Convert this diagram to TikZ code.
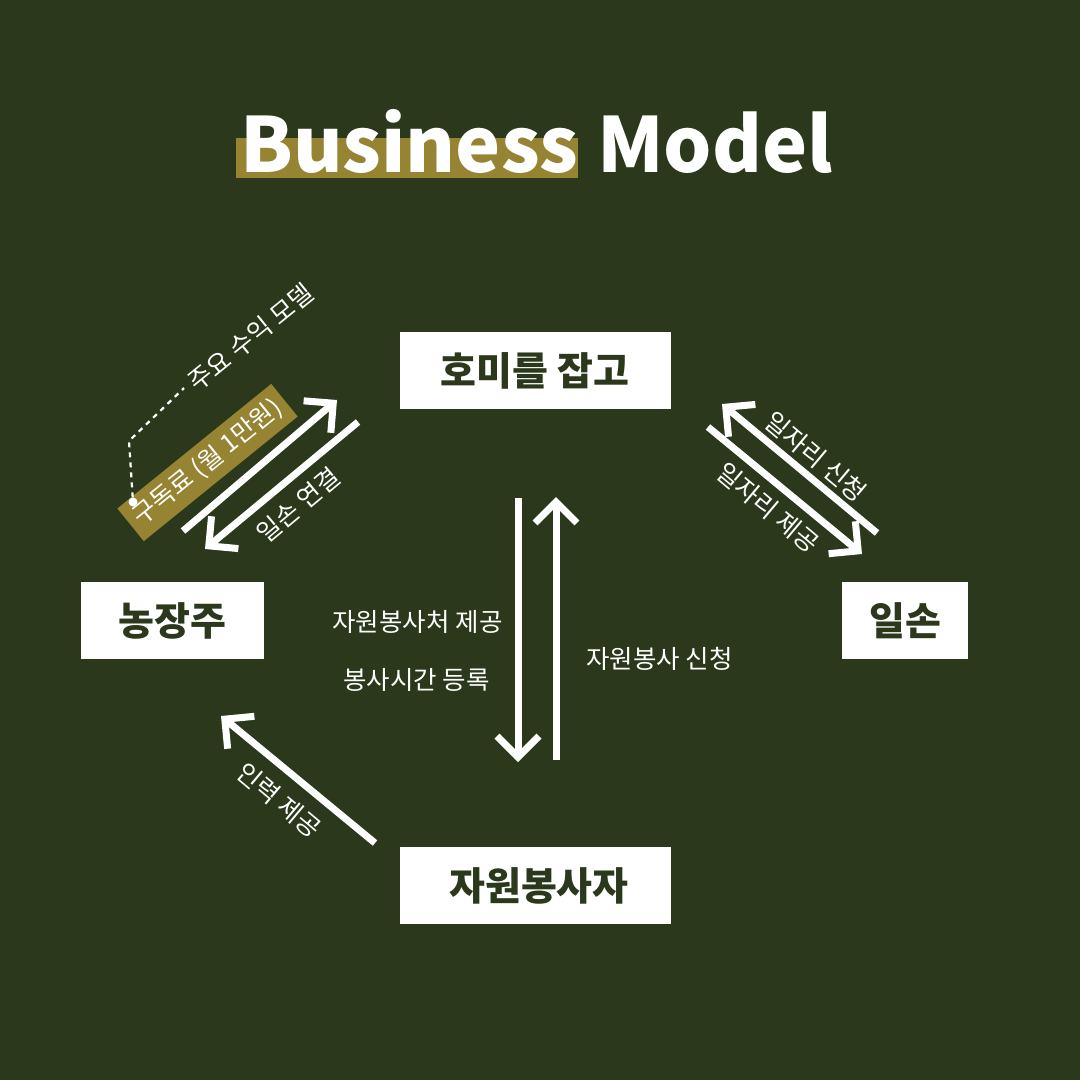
\documentclass[tikz,border=0pt]{standalone}
\usepackage{fontspec}
\setmainfont{Noto Sans CJK KR}
\usetikzlibrary{arrows.meta}
\definecolor{bg}{RGB}{43,56,28}
\definecolor{gold}{RGB}{150,132,51}
\begin{document}
\begin{tikzpicture}[x=1pt,y=-1pt,
  box/.style={fill=white, minimum height=77pt, inner sep=0pt, text=bg,
    font=\fontsize{39}{42}\selectfont\bfseries},
  lbl/.style={text=white, inner sep=0pt, font=\fontsize{25.5}{28}\selectfont},
  arr/.style={draw=white, line width=7pt, -{Straight Barb[length=21pt,width=42pt]}},
  ttl/.style={text=white, inner sep=0pt, anchor=base west, font=\fontsize{76}{84}\selectfont\bfseries}
]
\useasboundingbox (0,0) rectangle (1080,1080);
\fill[bg] (0,0) rectangle (1080,1080);

% title
\node[fill=gold, minimum width=342pt, minimum height=40pt, inner sep=0pt] (hl) at (407,158) {};
\node[ttl] (t1) at (240,172) {Business};
\node[ttl] (t2) at (597,172) {Model};

% boxes
\node[box, minimum width=271pt] (hm) at (535,370.5) {호미를 잡고};
\node[box, minimum width=183pt] (nj) at (172.5,620.5) {농장주};
\node[box, minimum width=126pt] (is) at (905,620.5) {일손};
\node[box, minimum width=271pt] (jw) at (535,885.5) {\hspace{8pt}자원봉사자};

% arrow end points
\coordinate (a1s) at (183,531);
\coordinate (a1e) at (337,400);
\coordinate (a2s) at (358,422);
\coordinate (a2e) at (205,549);
\coordinate (b1s) at (877,533);
\coordinate (b1e) at (722,404);
\coordinate (b2s) at (708,427);
\coordinate (b2e) at (862,554);
\coordinate (c1s) at (375,843);
\coordinate (c1e) at (221,716);
\coordinate (v1s) at (518,498);
\coordinate (v1e) at (518,762);
\coordinate (v2s) at (556,760);
\coordinate (v2e) at (556,497);

\draw[arr] (a1s) -- (a1e);
\draw[arr] (a2s) -- (a2e);
\draw[arr] (b1s) -- (b1e);
\draw[arr] (b2s) -- (b2e);
\draw[arr] (c1s) -- (c1e);
\draw[arr] (v1s) -- (v1e);
\draw[arr] (v2s) -- (v2e);

% subscription label
\node[lbl, fill=gold, rotate=39, minimum width=198pt, minimum height=42pt] (sub) at (207.5,462.5) {구독료 (월 1만원)};
\node[circle, fill=white, inner sep=0pt, minimum size=9pt] (dot) at (133,502) {};
\coordinate (d1) at (129,441);
\coordinate (d2) at (184,388);
\draw[white, line width=2.2pt, dash pattern=on 5pt off 5pt] (dot) -- (d1) -- (d2);
\node[lbl, rotate=39] (rev) at (250.5,337.5) {주요 수익 모델};

% arrow labels
\node[lbl, rotate=40] (l1) at (298,505) {일손 연결};
\node[lbl, rotate=-40] (l2) at (816,457) {일자리 신청};
\node[lbl, rotate=-40] (l3) at (768,508) {일자리 제공};
\node[lbl, rotate=-40] (l4) at (279,800) {인력 제공};
\node[lbl] (l5) at (417.5,622) {자원봉사처 제공};
\node[lbl] (l6) at (416.5,680) {봉사시간 등록};
\node[lbl] (l7) at (659.5,659) {자원봉사 신청};
\end{tikzpicture}
\end{document}
